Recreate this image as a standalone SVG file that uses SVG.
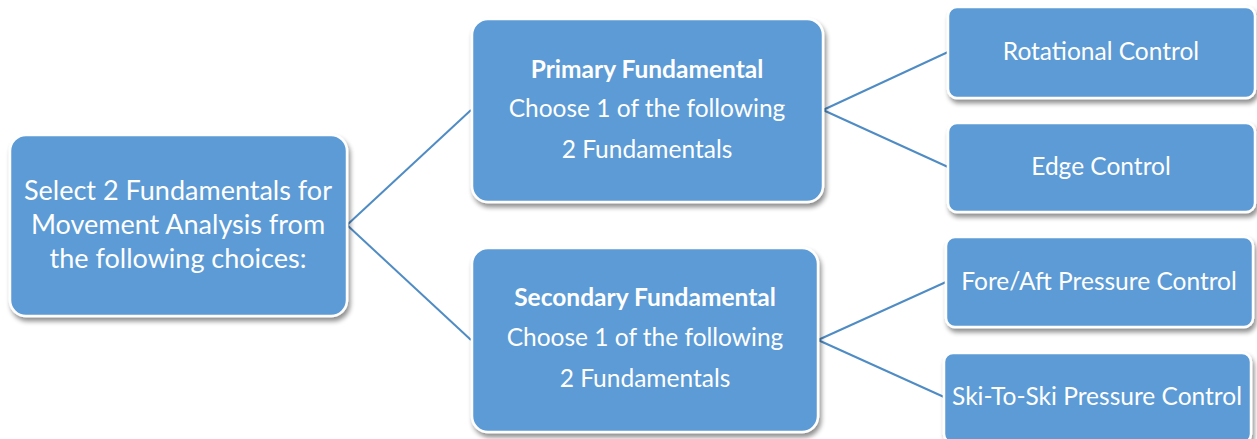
<svg xmlns="http://www.w3.org/2000/svg" width="1257" height="439" viewBox="0 0 1257 439">
<defs>
<filter id="sh" x="-10%" y="-10%" width="125%" height="130%">
<feGaussianBlur in="SourceAlpha" stdDeviation="2.5"/>
<feOffset dx="2" dy="4" result="b"/>
<feComponentTransfer><feFuncA type="linear" slope="0.45"/></feComponentTransfer>
<feMerge><feMergeNode/><feMergeNode in="SourceGraphic"/></feMerge>
</filter>
</defs>
<style>
.box{fill:#5B9BD5;stroke:#FFFFFF;stroke-width:2.5;filter:url(#sh)}
.t{font-family:Lato,"Liberation Sans",sans-serif;fill:#FFFFFF;text-anchor:middle}
.big{font-size:27px}
.mid{font-size:24.5px}
.b{font-weight:bold}
.c{stroke:#4F8CC4;stroke-width:2;fill:none}
</style>
<g id="connectors">
<line class="c" x1="347" y1="225" x2="471" y2="110"/>
<line class="c" x1="347" y1="225" x2="471" y2="340"/>
<line class="c" x1="823" y1="110" x2="948" y2="52"/>
<line class="c" x1="823" y1="110" x2="948" y2="167"/>
<line class="c" x1="818" y1="340" x2="946" y2="282"/>
<line class="c" x1="818" y1="340" x2="944" y2="397"/>
</g>
<g id="root">
<rect class="box" x="10" y="135" width="337" height="181" rx="16"/>
<text class="t big" x="178" y="200">Select 2 Fundamentals for</text>
<text class="t big" x="178" y="234">Movement Analysis from</text>
<text class="t big" x="178" y="268">the following choices:</text>
</g>
<g id="primary">
<rect class="box" x="472" y="19" width="351" height="183" rx="16"/>
<text class="t mid b" x="647" y="78">Primary Fundamental</text>
<text class="t mid" x="647" y="117">Choose 1 of the following</text>
<text class="t mid" x="647" y="158">2 Fundamentals</text>
</g>
<g id="secondary">
<rect class="box" x="472" y="248" width="346" height="184" rx="16"/>
<text class="t mid b" x="645" y="306">Secondary Fundamental</text>
<text class="t mid" x="645" y="346">Choose 1 of the following</text>
<text class="t mid" x="645" y="387">2 Fundamentals</text>
</g>
<g id="rotational">
<rect class="box" x="948" y="7" width="307" height="91" rx="9"/>
<text class="t mid" x="1101" y="60">Rotational Control</text>
</g>
<g id="edge">
<rect class="box" x="948" y="123" width="307" height="89" rx="9"/>
<text class="t mid" x="1101" y="175">Edge Control</text>
</g>
<g id="foreaft">
<rect class="box" x="946" y="237" width="307" height="90" rx="9"/>
<text class="t mid" x="1099" y="290">Fore/Aft Pressure Control</text>
</g>
<g id="skitoski">
<rect class="box" x="944" y="353" width="307" height="90" rx="9"/>
<text class="t mid" x="1097" y="405">Ski-To-Ski Pressure Control</text>
</g>
</svg>
